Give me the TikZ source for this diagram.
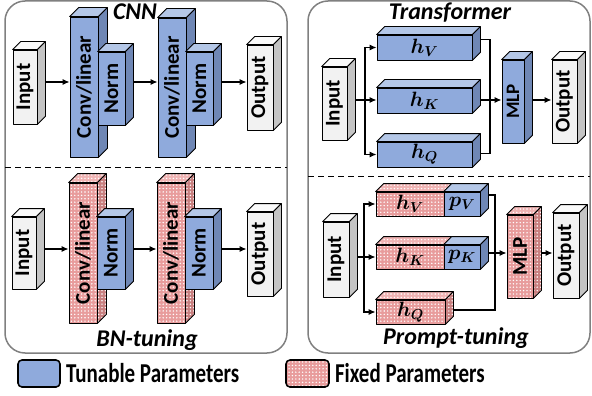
\documentclass[tikz,border=0pt]{standalone}
\usepackage{fontspec}
\setmainfont{Carlito}
\usepackage{bm}
\usetikzlibrary{calc}
\usetikzlibrary{positioning}
\usetikzlibrary{arrows.meta}
\usetikzlibrary{patterns.meta}

\definecolor{bluefront}{HTML}{8FAADC}
\definecolor{bluetop}{HTML}{B4C7E7}
\definecolor{blueside}{HTML}{6F87B5}
\definecolor{redfront}{HTML}{E89C9C}
\definecolor{redtop}{HTML}{F0B4B4}
\definecolor{redside}{HTML}{C98080}
\definecolor{grayfront}{HTML}{F2F2F2}
\definecolor{graytop}{HTML}{FAFAFA}
\definecolor{grayside}{HTML}{C4C4C4}
\definecolor{panelgray}{HTML}{808080}

\newcommand{\lbl}{\fontsize{21}{24}\selectfont\bfseries}
\newcommand{\ttl}{\fontsize{24}{28}\selectfont\bfseries\itshape}
\newcommand{\mth}{\fontsize{22}{26}\selectfont}
\newcommand{\keytxt}[1]{\scalebox{1}[1.3]{#1}}

% top and side faces of a block, #1 = depth
\newcommand{\faces}[3][8]{%
  \draw[#3top] (#2.north west) -- ++(#1,-#1) -- ([shift={(#1,-#1)}]#2.north east) -- (#2.north east) -- cycle;
  \draw[#3side] (#2.north east) -- ++(#1,-#1) -- ([shift={(#1,-#1)}]#2.south east) -- (#2.south east) -- cycle;
}

\tikzset{
  face/.style={draw, line width=0.8pt, line join=round},
  blk/.style={face, inner sep=0pt, font=\lbl},
  dots/.style={pattern={Dots[distance=3.4pt, radius=0.8pt]}, pattern color=white},
  tun/.style={blk, fill=bluefront},
  tuntop/.style={face, fill=bluetop},
  tunside/.style={face, fill=blueside},
  fix/.style={blk, preaction={fill=redfront}, dots},
  fixtop/.style={face, preaction={fill=redtop}, dots},
  fixside/.style={face, preaction={fill=redside}, dots},
  io/.style={blk, fill=grayfront},
  iotop/.style={face, fill=graytop},
  ioside/.style={face, fill=grayside},
  arr/.style={line width=1.2pt, -{Latex[length=7pt, width=6pt]}},
  wire/.style={line width=1.2pt},
  panel/.style={draw=panelgray, line width=1.5pt, rounded corners=20pt},
  sep/.style={line width=1pt, dash pattern=on 6pt off 4pt},
  key/.style={rounded corners=4pt, line width=1.6pt, minimum height=27},
}

\begin{document}
\begin{tikzpicture}[x=1pt, y=-1pt]
  \useasboundingbox (0,0) rectangle (592,396);

  % panels
  \draw[panel] (5,1) rectangle (287,353);
  \draw[panel] (308,1) rectangle (590,353);
  \draw[sep] (5,167) -- (287,167);
  \draw[sep] (308,176) -- (590,176);

  \node[font=\ttl] (cnn) at (135,12) {CNN};
  \node[font=\ttl] (bnt) at (147,340) {BN-tuning};
  \node[font=\ttl] (trf) at (450,13) {Transformer};
  \node[font=\ttl] (prt) at (456,338) {Prompt-tuning};

  % CNN
  \node[io, minimum width=24, minimum height=74] (inA) at (25,87) {\rotatebox{90}{Input}};
  \faces{inA}{io}
  \node[tun, minimum width=28, minimum height=140] (convA) at (84,87) {\rotatebox{90}{Conv/linear}};
  \faces[9]{convA}{tun}
  \node[tun, minimum width=27, minimum height=73] (normA) at (111.5,88.5) {\rotatebox{90}{Norm}};
  \faces{normA}{tun}
  \node[tun, minimum width=28, minimum height=139] (convB) at (172,87.5) {\rotatebox{90}{Conv/linear}};
  \faces[9]{convB}{tun}
  \node[tun, minimum width=27, minimum height=73] (normB) at (199.5,88.5) {\rotatebox{90}{Norm}};
  \faces{normB}{tun}
  \node[io, minimum width=26, minimum height=85] (outA) at (260,87.5) {\rotatebox{90}{Output}};
  \faces{outA}{io}
  \draw[arr] ([shift={(8,-5)}]inA.east) -- ([shift={(0,-5)}]convA.west);
  \draw[arr] ([shift={(8,-6.5)}]normA.east) -- ([shift={(0,-5.5)}]convB.west);
  \draw[arr] ([shift={(8,-6.5)}]normB.east) -- ([shift={(0,-5.5)}]outA.west);

  % BN-tuning
  \node[io, minimum width=24, minimum height=72] (inB) at (24,253) {\rotatebox{90}{Input}};
  \faces{inB}{io}
  \node[fix, minimum width=28, minimum height=140] (convC) at (83,253) {\rotatebox{90}{Conv/linear}};
  \faces[9]{convC}{fix}
  \node[tun, minimum width=28, minimum height=72] (normC) at (111,253) {\rotatebox{90}{Norm}};
  \faces{normC}{tun}
  \node[fix, minimum width=28, minimum height=140] (convD) at (171,253) {\rotatebox{90}{Conv/linear}};
  \faces[9]{convD}{fix}
  \node[tun, minimum width=28, minimum height=72] (normD) at (199,253) {\rotatebox{90}{Norm}};
  \faces{normD}{tun}
  \node[io, minimum width=26, minimum height=84] (outB) at (260,254) {\rotatebox{90}{Output}};
  \faces{outB}{io}
  \draw[arr] ([shift={(8,-4)}]inB.east) -- ([shift={(0,-4)}]convC.west);
  \draw[arr] ([shift={(8,-4)}]normC.east) -- ([shift={(0,-4)}]convD.west);
  \draw[arr] ([shift={(8,-4)}]normD.east) -- ([shift={(0,-5)}]outB.west);

  % Transformer
  \node[io, minimum width=25, minimum height=73] (inC) at (334.5,103.5) {\rotatebox{90}{Input}};
  \faces{inC}{io}
  \node[tun, minimum width=95, minimum height=25, font=\mth] (hVa) at (424.5,47.5) {$\bm{h_V}$};
  \faces{hVa}{tun}
  \node[tun, minimum width=95, minimum height=25, font=\mth] (hKa) at (424.5,100.5) {$\bm{h_K}$};
  \faces{hKa}{tun}
  \node[tun, minimum width=95, minimum height=25, font=\mth] (hQa) at (424.5,154.5) {$\bm{h_Q}$};
  \faces{hQa}{tun}
  \node[tun, minimum width=22, minimum height=83, font=\fontsize{19}{21}\selectfont\bfseries] (mlpA) at (513,101.5) {\rotatebox{90}{MLP}};
  \faces{mlpA}{tun}
  \node[io, minimum width=25, minimum height=83] (outC) at (564.5,101.5) {\rotatebox{90}{Output}};
  \faces{outC}{io}
  \coordinate (spA) at (365,100);
  \coordinate (mgA) at (490,100);
  \draw[wire] ([shift={(8,-3.5)}]inC.east) -- (spA);
  \draw[arr] (spA) |- (hVa.west);
  \draw[arr] (spA) -- (hKa.west |- spA);
  \draw[arr] (spA) |- (hQa.west);
  \draw[wire] ([shift={(8,-8)}]hVa.east) -| (mgA);
  \draw[wire] ([shift={(8,-1)}]hQa.east) -| (mgA);
  \draw[arr] ([xshift=8pt]hKa.east |- mgA) -- (mlpA.west |- mgA);
  \draw[arr] ([shift={(8,-1.5)}]mlpA.east) -- ([shift={(0,-1.5)}]outC.west);

  % Prompt-tuning
  \node[io, minimum width=26, minimum height=75] (inD) at (336,259.5) {\rotatebox{90}{Input}};
  \faces{inD}{io}
  \node[fix, minimum width=68, minimum height=24, font=\mth] (hVb) at (410,204) {$\bm{h_V}$};
  \faces{hVb}{fix}
  \node[tun, minimum width=36, minimum height=24, font=\mth] (pVb) at (462,204) {$\bm{p_V}$};
  \faces{pVb}{tun}
  \node[fix, minimum width=68, minimum height=24, font=\mth] (hKb) at (410,257) {$\bm{h_K}$};
  \faces{hKb}{fix}
  \node[tun, minimum width=36, minimum height=24, font=\mth] (pKb) at (462,257) {$\bm{p_K}$};
  \faces{pKb}{tun}
  \node[fix, minimum width=69, minimum height=24, font=\mth] (hQb) at (410.5,312) {$\bm{h_Q}$};
  \faces{hQb}{fix}
  \node[fix, minimum width=26, minimum height=83] (mlpB) at (520,256.5) {\rotatebox{90}{MLP}};
  \faces{mlpB}{fix}
  \node[io, minimum width=26, minimum height=85] (outD) at (566,255.5) {\rotatebox{90}{Output}};
  \faces{outD}{io}
  \coordinate (spB) at (364,257);
  \coordinate (mgB) at (495,253);
  \draw[wire] ([shift={(8,-2.5)}]inD.east) -- (spB);
  \draw[arr] (spB) |- (hVb.west);
  \draw[arr] (spB) -- (hKb.west |- spB);
  \draw[arr] (spB) |- (hQb.west);
  \draw[wire] ([shift={(8,-9)}]pVb.east) -| (mgB);
  \draw[wire] ([shift={(8,-2)}]hQb.east) -| (mgB);
  \draw[arr] ([xshift=8pt]pKb.east |- mgB) -- (mlpB.west |- mgB);
  \draw[arr] ([shift={(8,-3.5)}]mlpB.east) -- ([shift={(0,-2.5)}]outD.west);

  % legend
  \node[tun, key, minimum width=42] (keyT) at (39,373.5) {};
  \node[right=5pt of keyT, inner sep=0pt, font=\lbl] (keyTtxt) {\keytxt{Tunable Parameters}};
  \node[fix, key, minimum width=43] (keyF) at (307.5,373.5) {};
  \node[right=5pt of keyF, inner sep=0pt, font=\lbl] (keyFtxt) {\keytxt{Fixed Parameters}};
\end{tikzpicture}
\end{document}
